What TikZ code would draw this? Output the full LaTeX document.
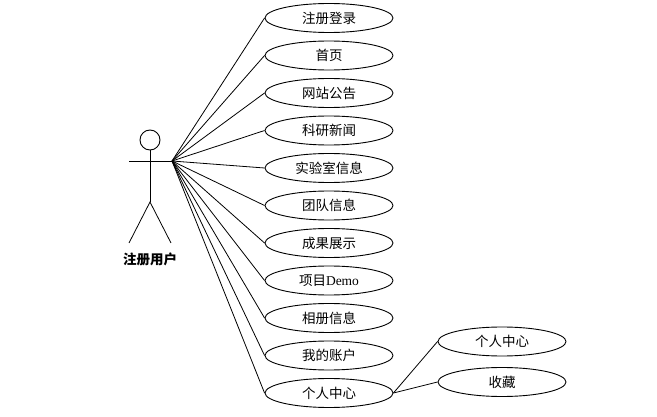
\documentclass[tikz,border=0pt]{standalone}
\usepackage{fontspec}
\setmainfont{Liberation Serif}
\newfontfamily\cjk{Noto Sans CJK SC}
\usetikzlibrary{shapes.geometric}
\begin{document}
\begin{tikzpicture}[x=1pt,y=1pt,
  uc/.style={draw,ellipse,minimum width=128pt,minimum height=29pt,inner sep=0pt,line width=0.9pt,font=\fontsize{13.5}{15}\selectfont\cjk},
  ln/.style={line width=0.8pt},
  lbl/.style={font=\fontsize{13.5}{15}\selectfont\cjk\bfseries}]
\useasboundingbox (0,0) rectangle (657,-417);
% actor
\node[draw,circle,minimum size=20pt,inner sep=0pt,line width=0.9pt] (head) at (150,-140) {};
\coordinate (hip) at (150,-202);
\coordinate (la) at (129,-161);
\coordinate (ra) at (172,-161);
\coordinate (ll) at (129,-243);
\coordinate (rl) at (171,-243);
\draw[ln] (head.south) -- (hip);
\draw[ln] (la) -- (ra);
\draw[ln] (ll) -- (hip) -- (rl);
\node[lbl] (actorlbl) at (150,-259) {注册用户};
% use cases
\node[uc] (u1) at (329,-18) {注册登录};
\node[uc] (u2) at (329,-55.5) {首页};
\node[uc] (u3) at (329,-93) {网站公告};
\node[uc] (u4) at (329,-130.5) {科研新闻};
\node[uc] (u5) at (329,-168) {实验室信息};
\node[uc] (u6) at (329,-205.5) {团队信息};
\node[uc] (u7) at (329,-243) {成果展示};
\node[uc] (u8) at (329,-280.5) {项目{\rmfamily Demo}};
\node[uc] (u9) at (329,-318) {相册信息};
\node[uc] (u10) at (329,-355.5) {我的账户};
\node[uc] (u11) at (329,-393) {个人中心};
\node[uc] (s1) at (502,-341.5) {个人中心};
\node[uc] (s2) at (502,-382) {收藏};
\foreach \i in {1,...,11} \draw[ln] (ra) -- (u\i.west);
\draw[ln] (u11.east) -- (s1.west);
\draw[ln] (u11.east) -- (s2.west);
\end{tikzpicture}
\end{document}
